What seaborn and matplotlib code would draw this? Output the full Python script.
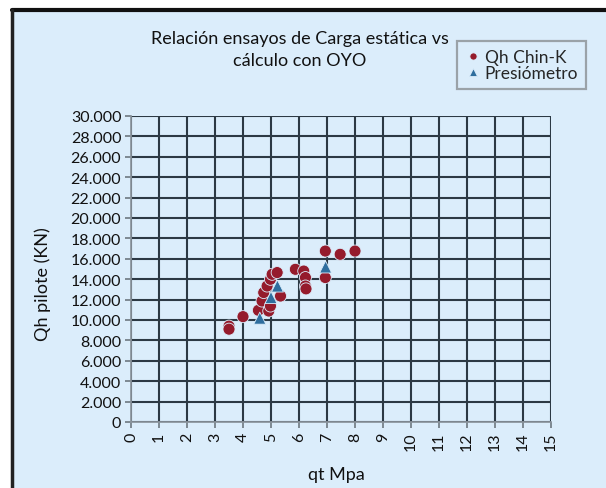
import numpy as np
import pandas as pd
import seaborn as sns
import matplotlib.pyplot as plt
from matplotlib.ticker import FuncFormatter

# Qh Chin-K points
chin_qt = [3.5, 3.5, 4.0, 4.55, 4.68, 4.74, 4.86, 4.98, 5.04, 5.22, 4.92, 4.98,
           5.34, 5.87, 6.17, 6.23, 6.23, 6.25, 6.94, 6.94, 7.47, 8.0]
chin_qh = [9400, 9100, 10330, 10950, 11860, 12690, 13330, 13990, 14480, 14650, 10880, 11370,
           12350, 14970, 14800, 14160, 13330, 13050, 16760, 14160, 16440, 16760]

# Presiometro points
pres_qt = [4.6, 5.0, 5.23, 6.95]
pres_qh = [10180, 12200, 13330, 15200]

series_names = ["Qh Chin-K", "Presiómetro"]

df = pd.DataFrame({
    "qt": chin_qt + pres_qt,
    "qh": chin_qh + pres_qh,
    "serie": [series_names[0]] * len(chin_qt) + [series_names[1]] * len(pres_qt),
})

sns.set_theme(style="white")
plt.rcParams["font.family"] = ["Lato", "DejaVu Sans"]

bg = "#dbedfb"
fig = plt.figure(figsize=(6.06, 4.89), dpi=100)
fig.patch.set_facecolor("white")

# light blue panel with black top/left border
panel = plt.Rectangle((11 / 606, 0), 1, 1 - 10 / 489, transform=fig.transFigure,
                      facecolor=bg, edgecolor="none", zorder=-10)
fig.patches.append(panel)
fig.add_artist(plt.Line2D([11.5 / 606, 1], [1 - 11 / 489, 1 - 11 / 489],
                          transform=fig.transFigure, color="#111111", lw=3))
fig.add_artist(plt.Line2D([12 / 606, 12 / 606], [0, 1 - 11 / 489],
                          transform=fig.transFigure, color="#222222", lw=2.5))

ax = fig.add_axes([131 / 606, 1 - 423 / 489, 420 / 606, 306 / 489])
ax.set_facecolor(bg)

sns.scatterplot(
    data=df, x="qt", y="qh", hue="serie", style="serie",
    markers={"Qh Chin-K": "o", "Presiómetro": "^"},
    palette={"Qh Chin-K": "#951b2c", "Presiómetro": "#2f6e9e"},
    s=75, edgecolor=bg, linewidth=0.6, ax=ax, zorder=3, legend=True,
)

ax.set_xlim(0, 15)
ax.set_ylim(0, 30000)
ax.set_xticks(range(0, 16))
ax.set_yticks(range(0, 30001, 2000))
ax.yaxis.set_major_formatter(FuncFormatter(lambda v, p: f"{int(v):,}".replace(",", ".")))
ax.grid(True, color="#2c3944", lw=1.5)
ax.set_axisbelow(True)
for s in ax.spines.values():
    s.set_visible(False)
ax.spines["left"].set_visible(True)
ax.spines["bottom"].set_visible(True)
ax.spines["left"].set_color("#8a949c")
ax.spines["bottom"].set_color("#8a949c")
ax.tick_params(axis="both", which="major", length=4, width=1.2, color="#6d7880",
               labelsize=11.5, labelcolor="#111111", direction="out", pad=3,
               left=True, bottom=True)
ax.tick_params(axis="x", rotation=90)

ax.set_xlabel("qt Mpa", fontsize=13, color="#111111")
ax.set_ylabel("Qh pilote (KN)", fontsize=13, color="#111111")
ax.yaxis.set_label_coords(-0.19, 0.455)
ax.xaxis.set_label_coords(0.49, -0.145)

fig.text(300 / 606, 1 - 50 / 489, "Relación ensayos de Carga estática vs\ncálculo con OYO",
         ha="center", va="center", fontsize=13, color="#111111", linespacing=1.5)

leg = ax.legend(loc="upper left", bbox_to_anchor=(457 / 606, 1 - 42 / 489),
                bbox_transform=fig.transFigure, title=None, fontsize=12.5,
                frameon=True, fancybox=False, handletextpad=0.15, handlelength=1.0,
                labelspacing=0.0, borderpad=0.45, borderaxespad=0, markerscale=0.6)
leg.get_frame().set_facecolor(bg)
leg.get_frame().set_edgecolor("#8a8f94")
leg.get_frame().set_linewidth(1.6)

fig.savefig("out.png", dpi=100, facecolor="white")
